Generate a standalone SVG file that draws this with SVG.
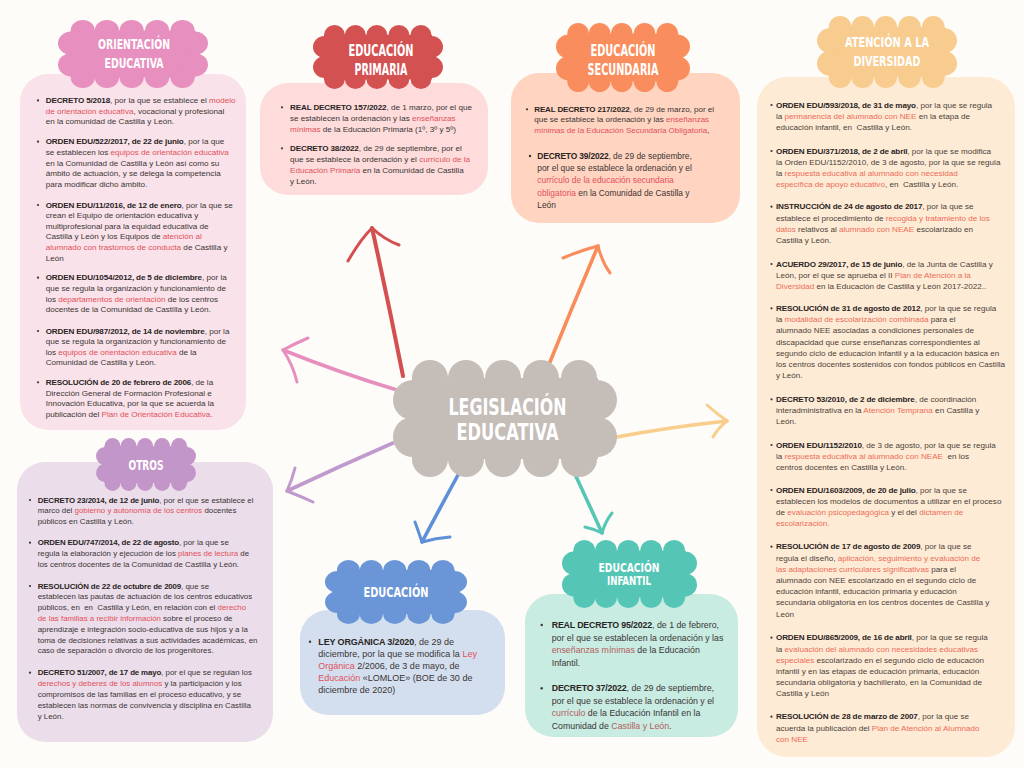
<svg xmlns="http://www.w3.org/2000/svg" xmlns:xlink="http://www.w3.org/1999/xlink" width="1024" height="768" viewBox="0 0 1024 768">
<style>
.hd{font-family:"DejaVu Sans Condensed","DejaVu Sans",sans-serif;font-weight:bold;fill:#ffffff;text-anchor:middle}
.tx{font-family:"Liberation Sans",Arial,sans-serif;fill:#3b3535}
.b{font-weight:bold;fill:#2a2424;letter-spacing:-0.15px}
.r{fill:#e2515a}
.dv .tx{fill:#4b3f3a}
.dv .r{fill:#ec6b58}
.inf .r{fill:#b75d5e}
.dot{fill:#3b3535}
.arr{fill:none;stroke-linecap:round;stroke-linejoin:round}
</style>
<defs>
<symbol id="cloud" viewBox="0 0 224 117" preserveAspectRatio="none">
<rect x="19" y="18" width="186" height="81"/>
<circle cx="37" cy="18" r="18"/><circle cx="73" cy="18" r="18"/><circle cx="110" cy="18" r="18"/><circle cx="148" cy="18" r="18"/><circle cx="186" cy="18" r="18"/>
<circle cx="37" cy="99" r="18"/><circle cx="73" cy="99" r="18"/><circle cx="110" cy="99" r="18"/><circle cx="148" cy="99" r="18"/><circle cx="186" cy="99" r="18"/>
<circle cx="20" cy="40" r="20"/><circle cx="20" cy="77" r="20"/><circle cx="204" cy="40" r="20"/><circle cx="204" cy="77" r="20"/>
</symbol>
</defs>
<rect width="1024" height="768" fill="#fdfcf8"/>

<g id="connectors" class="arr">
<g stroke="#d44f4f"><path d="M403,376 Q388,300 372,228" stroke-width="4"/><path d="M348,261 Q360,240 372,228 Q385,240 399,245" stroke-width="3"/></g>
<g stroke="#fa8c5c"><path d="M550,362 Q573,305 598,246" stroke-width="3.6"/><path d="M563,258 Q582,250 598,246 Q602,262 610,273" stroke-width="3"/></g>
<g stroke="#e68fbe"><path d="M397,390 Q340,373 283,350" stroke-width="3.6"/><path d="M308,338 Q294,344 283,350 Q293,365 297,382" stroke-width="3"/></g>
<g stroke="#c09acd"><path d="M393,443 Q340,466 287,491" stroke-width="3.6"/><path d="M295,468 Q292,480 287,491 Q300,496 313,502" stroke-width="3"/></g>
<g stroke="#f9cd8b"><path d="M617,437 Q670,427 727,421" stroke-width="3.6"/><path d="M707,405 Q717,414 727,421 Q718,428 713,437" stroke-width="3"/></g>
<g stroke="#5e8fd9"><path d="M458,475 Q440,508 422,542" stroke-width="3.6"/><path d="M415,522 Q419,533 422,542 Q436,538 450,537" stroke-width="3"/></g>
<g stroke="#56c6b6"><path d="M573,470 Q588,502 602,533" stroke-width="3.6"/><path d="M585,527 Q594,529 602,533 Q605,522 612,513" stroke-width="3"/></g>
</g>

<g id="legislacion">
<use xlink:href="#cloud" href="#cloud" x="393" y="360" width="224" height="117" fill="#c4bdb8"/>
<text class="hd" x="507.5" y="415" font-size="23" textLength="118" lengthAdjust="spacingAndGlyphs">LEGISLACIÓN</text>
<text class="hd" x="507.5" y="440" font-size="23" textLength="102" lengthAdjust="spacingAndGlyphs">EDUCATIVA</text>
</g>

<g id="orientacion">
<rect x="20" y="74" width="226" height="356" rx="28" fill="#f9e2e9"/>
<use xlink:href="#cloud" href="#cloud" x="58" y="20" width="150" height="68" fill="#e78fbe"/>
<text class="hd" x="134" y="48.6" font-size="14.5" textLength="72" lengthAdjust="spacingAndGlyphs">ORIENTACIÓN</text>
<text class="hd" x="134" y="67.6" font-size="14.5" textLength="59" lengthAdjust="spacingAndGlyphs">EDUCATIVA</text>
<g class="dot"><circle cx="38" cy="100.4" r="1.1"/><circle cx="38" cy="141.7" r="1.1"/><circle cx="38" cy="205" r="1.1"/><circle cx="38" cy="277.7" r="1.1"/><circle cx="38" cy="331" r="1.1"/><circle cx="38" cy="382.3" r="1.1"/></g>
<g class="tx" font-size="8.1">
<text x="45.7" y="103"><tspan class="b">DECRETO 5/2018</tspan>, por la que se establece el <tspan class="r">modelo</tspan></text>
<text x="45.7" y="113.6"><tspan class="r">de orientación educativa</tspan>, vocacional y profesional</text>
<text x="45.7" y="124.2">en la comunidad de Castilla y León.</text>
<text x="45.7" y="144.3"><tspan class="b">ORDEN EDU/522/2017, de 22 de junio</tspan>, por la que</text>
<text x="45.7" y="154.9">se establecen los <tspan class="r">equipos de orientación educativa</tspan></text>
<text x="45.7" y="165.5">en la Comunidad de Castilla y León así como su</text>
<text x="45.7" y="176.1">ámbito de actuación, y se delega la competencia</text>
<text x="45.7" y="186.7">para modificar dicho ámbito.</text>
<text x="45.7" y="207.6"><tspan class="b">ORDEN EDU/11/2016, de 12 de enero</tspan>, por la que se</text>
<text x="45.7" y="218.2">crean el Equipo de orientación educativa y</text>
<text x="45.7" y="228.8">multiprofesional para la equidad educativa de</text>
<text x="45.7" y="239.4">Castilla y León y los Equipos de <tspan class="r">atención al</tspan></text>
<text x="45.7" y="250"><tspan class="r">alumnado con trastornos de conducta</tspan> de Castilla y</text>
<text x="45.7" y="260.6">León</text>
<text x="45.7" y="280.3"><tspan class="b">ORDEN EDU/1054/2012, de 5 de diciembre</tspan>, por la</text>
<text x="45.7" y="290.9">que se regula la organización y funcionamiento de</text>
<text x="45.7" y="301.5">los <tspan class="r">departamentos de orientación</tspan> de los centros</text>
<text x="45.7" y="312.1">docentes de la Comunidad de Castilla y León.</text>
<text x="45.7" y="333.6"><tspan class="b">ORDEN EDU/987/2012, de 14 de noviembre</tspan>, por la</text>
<text x="45.7" y="344.2">que se regula la organización y funcionamiento de</text>
<text x="45.7" y="354.8">los <tspan class="r">equipos de orientación educativa</tspan> de la</text>
<text x="45.7" y="365.4">Comunidad de Castilla y León.</text>
<text x="45.7" y="384.9"><tspan class="b">RESOLUCIÓN de 20 de febrero de 2006</tspan>, de la</text>
<text x="45.7" y="395.5">Dirección General de Formación Profesional e</text>
<text x="45.7" y="406.1">Innovación Educativa, por la que se acuerda la</text>
<text x="45.7" y="416.7">publicación del <tspan class="r">Plan de Orientación Educativa.</tspan></text>
</g>
</g>

<g id="primaria">
<rect x="260" y="83" width="228" height="112" rx="28" fill="#fddcdb"/>
<use xlink:href="#cloud" href="#cloud" x="313" y="25" width="130" height="64" fill="#d45152"/>
<text class="hd" x="381" y="56" font-size="15" textLength="65" lengthAdjust="spacingAndGlyphs">EDUCACIÓN</text>
<text class="hd" x="381" y="75.3" font-size="15" textLength="53" lengthAdjust="spacingAndGlyphs">PRIMARIA</text>
<g class="dot"><circle cx="282" cy="107.3" r="1.1"/><circle cx="282" cy="148.3" r="1.1"/></g>
<g class="tx" font-size="8.1">
<text x="290" y="110"><tspan class="b">REAL DECRETO 157/2022</tspan>, de 1 marzo, por el que</text>
<text x="290" y="121">se establecen la ordenación y las <tspan class="r">enseñanzas</tspan></text>
<text x="290" y="131.5"><tspan class="r">mínimas</tspan> de la Educación Primaria (1º, 3º y 5º)</text>
<text x="290" y="151"><tspan class="b">DECRETO 38/2022</tspan>, de 29 de septiembre, por el</text>
<text x="290" y="162">que se establece la ordenación y el <tspan class="r">currículo de la</tspan></text>
<text x="290" y="173"><tspan class="r">Educación Primaria</tspan> en la Comunidad de Castilla</text>
<text x="290" y="184">y León.</text>
</g>
</g>

<g id="secundaria">
<rect x="511" y="73" width="229" height="150" rx="28" fill="#ffd4c0"/>
<use xlink:href="#cloud" href="#cloud" x="556" y="23" width="134" height="69" fill="#fa8d5d"/>
<text class="hd" x="623" y="55.5" font-size="15" textLength="65" lengthAdjust="spacingAndGlyphs">EDUCACIÓN</text>
<text class="hd" x="623" y="75" font-size="15" textLength="71" lengthAdjust="spacingAndGlyphs">SECUNDARIA</text>
<g class="dot"><circle cx="527" cy="109.3" r="1.1"/><circle cx="530" cy="156" r="1.2"/></g>
<g class="tx" font-size="8">
<text x="534.3" y="111.8"><tspan class="b">REAL DECRETO 217/2022</tspan>, de 29 de marzo, por el</text>
<text x="534.3" y="122.3">que se establece la ordenación y las <tspan class="r">enseñanzas</tspan></text>
<text x="534.3" y="132.8"><tspan class="r">mínimas de la Educación Secundaria Obligatoria</tspan>,</text>
</g>
<g class="tx" font-size="8.4">
<text x="537.3" y="159"><tspan class="b">DECRETO 39/2022</tspan>, de 29 de septiembre,</text>
<text x="537.3" y="171.2">por el que se establece la ordenación y el</text>
<text x="537.3" y="183.4"><tspan class="r">currículo de la educación secundaria</tspan></text>
<text x="537.3" y="195.6"><tspan class="r">obligatoria</tspan> en la Comunidad de Castilla y</text>
<text x="537.3" y="207.8">León</text>
</g>
</g>

<g id="diversidad" class="dv">
<rect x="757" y="77" width="258" height="680" rx="30" fill="#feebd5"/>
<use xlink:href="#cloud" href="#cloud" x="817" y="16" width="140" height="72" fill="#f8cb8e"/>
<text class="hd" x="887" y="46.5" font-size="14" textLength="84" lengthAdjust="spacingAndGlyphs">ATENCIÓN A LA</text>
<text class="hd" x="887" y="66" font-size="14" textLength="67" lengthAdjust="spacingAndGlyphs">DIVERSIDAD</text>
<g class="dot"><circle cx="771.5" cy="105" r="1.1"/><circle cx="771.5" cy="151" r="1.1"/><circle cx="771.5" cy="206.7" r="1.1"/><circle cx="771.5" cy="264" r="1.1"/><circle cx="771.5" cy="308.3" r="1.1"/><circle cx="771.5" cy="399.3" r="1.1"/><circle cx="771.5" cy="445" r="1.1"/><circle cx="771.5" cy="490" r="1.1"/><circle cx="771.5" cy="546.7" r="1.1"/><circle cx="771.5" cy="637.7" r="1.1"/><circle cx="771.5" cy="716.7" r="1.1"/></g>
<g class="tx" font-size="8.1">
<text x="776" y="107.6"><tspan class="b">ORDEN EDU/593/2018, de 31 de mayo</tspan>, por la que se regula</text>
<text x="776" y="118.8">la <tspan class="r">permanencia del alumnado con NEE</tspan> en la etapa de</text>
<text x="776" y="130">educación infantil, en&#160; Castilla y León.</text>
<text x="776" y="153.6"><tspan class="b">ORDEN EDU/371/2018, de 2 de abril</tspan>, por la que se modifica</text>
<text x="776" y="164.8">la Orden EDU/1152/2010, de 3 de agosto, por la que se regula</text>
<text x="776" y="176">la <tspan class="r">respuesta educativa al alumnado con necesidad</tspan></text>
<text x="776" y="187.2"><tspan class="r">específica de apoyo educativo</tspan>, en&#160; Castilla y León.</text>
<text x="776" y="209.3"><tspan class="b">INSTRUCCIÓN de 24 de agosto de 2017</tspan>, por la que se</text>
<text x="776" y="220.5">establece el procedimiento de <tspan class="r">recogida y tratamiento de los</tspan></text>
<text x="776" y="231.7"><tspan class="r">datos</tspan> relativos al <tspan class="r">alumnado con NEAE</tspan> escolarizado en</text>
<text x="776" y="242.9">Castilla y León.</text>
<text x="776" y="266.6"><tspan class="b">ACUERDO 29/2017, de 15 de junio</tspan>, de la Junta de Castilla y</text>
<text x="776" y="277.8">León, por el que se aprueba el II <tspan class="r">Plan de Atención a la</tspan></text>
<text x="776" y="289"><tspan class="r">Diversidad</tspan> en la Educación de Castilla y León 2017-2022..</text>
<text x="776" y="310.9"><tspan class="b">RESOLUCIÓN de 31 de agosto de 2012</tspan>, por la que se regula</text>
<text x="776" y="322.1">la <tspan class="r">modalidad de escolarización combinada</tspan> para el</text>
<text x="776" y="333.3">alumnado NEE asociadas a condiciones personales de</text>
<text x="776" y="344.5">discapacidad que curse enseñanzas correspondientes al</text>
<text x="776" y="355.7">segundo ciclo de educación infantil y a la educación básica en</text>
<text x="776" y="366.9">los centros docentes sostenidos con fondos públicos en Castilla</text>
<text x="776" y="378.1">y León.</text>
<text x="776" y="401.9"><tspan class="b">DECRETO 53/2010, de 2 de diciembre</tspan>, de coordinación</text>
<text x="776" y="413.1">interadministrativa en la <tspan class="r">Atención Temprana</tspan> en Castilla y</text>
<text x="776" y="424.3">León.</text>
<text x="776" y="447.6"><tspan class="b">ORDEN EDU/1152/2010</tspan>, de 3 de agosto, por la que se regula</text>
<text x="776" y="458.8">la <tspan class="r">respuesta educativa al alumnado con NEAE</tspan>&#160; en los</text>
<text x="776" y="470">centros docentes en Castilla y León.</text>
<text x="776" y="492.6"><tspan class="b">ORDEN EDU/1603/2009, de 20 de julio</tspan>, por la que se</text>
<text x="776" y="503.8">establecen los modelos de documentos a utilizar en el proceso</text>
<text x="776" y="515">de <tspan class="r">evaluación psicopedagógica</tspan> y el del <tspan class="r">dictamen de</tspan></text>
<text x="776" y="526.2"><tspan class="r">escolarización.</tspan></text>
<text x="776" y="549.3"><tspan class="b">RESOLUCIÓN de 17 de agosto de 2009</tspan>, por la que se</text>
<text x="776" y="560.5">regula el diseño, <tspan class="r">aplicación, seguimiento y evaluación de</tspan></text>
<text x="776" y="571.7"><tspan class="r">las adaptaciones curriculares significativas</tspan> para el</text>
<text x="776" y="582.9">alumnado con NEE escolarizado en el segundo ciclo de</text>
<text x="776" y="594.1">educación infantil, educación primaria y educación</text>
<text x="776" y="605.3">secundaria obligatoria en los centros docentes de Castilla y</text>
<text x="776" y="616.5">León</text>
<text x="776" y="640.3"><tspan class="b">ORDEN EDU/865/2009, de 16 de abril</tspan>, por la que se regula</text>
<text x="776" y="651.5">la <tspan class="r">evaluación del alumnado con necesidades educativas</tspan></text>
<text x="776" y="662.7"><tspan class="r">especiales</tspan> escolarizado en el segundo ciclo de educación</text>
<text x="776" y="673.9">infantil y en las etapas de educación primaria, educación</text>
<text x="776" y="685.1">secundaria obligatoria y bachillerato, en la Comunidad de</text>
<text x="776" y="696.3">Castilla y León</text>
<text x="776" y="719.3"><tspan class="b">RESOLUCIÓN de 28 de marzo de 2007</tspan>, por la que se</text>
<text x="776" y="730.5">acuerda la publicación del <tspan class="r">Plan de Atención al Alumnado</tspan></text>
<text x="776" y="741.7"><tspan class="r">con NEE</tspan></text>
</g>
</g>

<g id="otros">
<rect x="17" y="462" width="256" height="280" rx="28" fill="#ebddea"/>
<use xlink:href="#cloud" href="#cloud" x="96" y="438" width="100" height="53" fill="#c396ca"/>
<text class="hd" x="146" y="470" font-size="14" textLength="35" lengthAdjust="spacingAndGlyphs">OTROS</text>
<g class="dot"><circle cx="30" cy="500" r="1.1"/><circle cx="30" cy="542.7" r="1.1"/><circle cx="30" cy="586" r="1.1"/><circle cx="30" cy="672.7" r="1.1"/></g>
<g class="tx" font-size="7.9">
<text x="37.7" y="502.6"><tspan class="b">DECRETO 23/2014, de 12 de junio</tspan>, por el que se establece el</text>
<text x="37.7" y="513.4">marco del <tspan class="r">gobierno y autonomía de los centros</tspan> docentes</text>
<text x="37.7" y="524.2">públicos en Castilla y León.</text>
<text x="37.7" y="545.3"><tspan class="b">ORDEN EDU/747/2014, de 22 de agosto</tspan>, por la que se</text>
<text x="37.7" y="556.1">regula la elaboración y ejecución de los <tspan class="r">planes de lectura</tspan> de</text>
<text x="37.7" y="566.9">los centros docentes de la Comunidad de Castilla y León.</text>
<text x="37.7" y="588.6"><tspan class="b">RESOLUCIÓN de 22 de octubre de 2009</tspan>, que se</text>
<text x="37.7" y="599.4">establecen las pautas de actuación de los centros educativos</text>
<text x="37.7" y="610.2">públicos, en&#160; en&#160; Castilla y León, en relación con el <tspan class="r">derecho</tspan></text>
<text x="37.7" y="621"><tspan class="r">de las familias a recibir información</tspan> sobre el proceso de</text>
<text x="37.7" y="631.8">aprendizaje e integración socio-educativa de sus hijos y a la</text>
<text x="37.7" y="642.6">toma de decisiones relativas a sus actividades académicas, en</text>
<text x="37.7" y="653.4">caso de separación o divorcio de los progenitores.</text>
<text x="37.7" y="675.3"><tspan class="b">DECRETO 51/2007, de 17 de mayo</tspan>, por el que se regulan los</text>
<text x="37.7" y="686.1"><tspan class="r">derechos y deberes de los alumnos</tspan> y la participación y los</text>
<text x="37.7" y="696.9">compromisos de las familias en el proceso educativo, y se</text>
<text x="37.7" y="707.7">establecen las normas de convivencia y disciplina en Castilla</text>
<text x="37.7" y="718.5">y León.</text>
</g>
</g>

<g id="educacion">
<rect x="300" y="610" width="205" height="105" rx="28" fill="#d3dfef"/>
<use xlink:href="#cloud" href="#cloud" x="325" y="560" width="142" height="64" fill="#6a95d7"/>
<text class="hd" x="396" y="597" font-size="14.5" textLength="65" lengthAdjust="spacingAndGlyphs">EDUCACIÓN</text>
<circle class="dot" cx="310" cy="641.7" r="1.2"/>
<g class="tx" font-size="9">
<text x="318.3" y="644.5"><tspan class="b">LEY ORGÁNICA 3/2020</tspan>, de 29 de</text>
<text x="318.3" y="656.5">diciembre, por la que se modifica la <tspan class="r">Ley</tspan></text>
<text x="318.3" y="668.5"><tspan class="r">Orgánica</tspan> 2/2006, de 3 de mayo, de</text>
<text x="318.3" y="680.5"><tspan class="r">Educación</tspan> «LOMLOE» (BOE de 30 de</text>
<text x="318.3" y="692.5">diciembre de 2020)</text>
</g>
</g>

<g id="infantil" class="inf">
<rect x="525" y="594" width="213" height="143" rx="28" fill="#c8ebe2"/>
<use xlink:href="#cloud" href="#cloud" x="562" y="540" width="135" height="68" fill="#55c6b6"/>
<text class="hd" x="629" y="572" font-size="12.5" textLength="61" lengthAdjust="spacingAndGlyphs">EDUCACIÓN</text>
<text class="hd" x="629" y="585" font-size="12.5" textLength="44" lengthAdjust="spacingAndGlyphs">INFANTIL</text>
<g class="dot"><circle cx="541.7" cy="625" r="1.2"/><circle cx="541.7" cy="688.3" r="1.2"/></g>
<g class="tx" font-size="8.8">
<text x="551.7" y="628"><tspan class="b">REAL DECRETO 95/2022</tspan>, de 1 de febrero,</text>
<text x="551.7" y="640.5">por el que se establecen la ordenación y las</text>
<text x="551.7" y="653"><tspan class="r">enseñanzas mínimas</tspan> de la Educación</text>
<text x="551.7" y="665.5">Infantil.</text>
<text x="551.7" y="691.3"><tspan class="b">DECRETO 37/2022</tspan>, de 29 de septiembre,</text>
<text x="551.7" y="703.8">por el que se establece la ordenación y el</text>
<text x="551.7" y="716.3"><tspan class="r">currículo</tspan> de la Educación Infantil en la</text>
<text x="551.7" y="728.8">Comunidad de <tspan class="r">Castilla y León</tspan>.</text>
</g>
</g>
</svg>
